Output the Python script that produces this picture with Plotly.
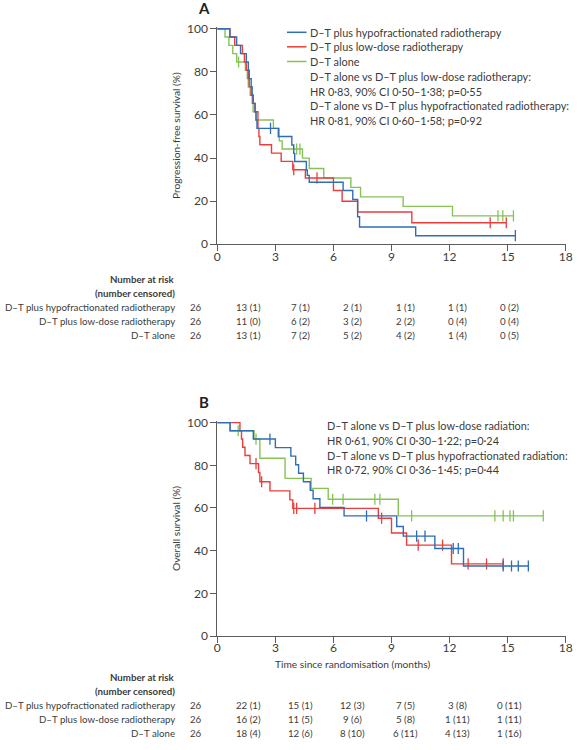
import numpy as np
import plotly.graph_objects as go

W, H = 579, 750

# ---------------- data ----------------
series_names = ["D–T plus hypofractionated radiotherapy",
                "D–T plus low-dose radiotherapy",
                "D–T alone"]
month_ticks = [0, 3, 6, 9, 12, 15, 18]
pct_ticks = [0, 20, 40, 60, 80, 100]

# Panel A: progression-free survival (%)
pfs_hypo_time = [0, 0.65, 1.0, 1.2, 1.5, 1.6, 1.65, 1.75, 1.8, 1.85, 1.95, 2.0, 2.05, 3.15,
                 3.85, 3.95, 4.0, 4.6, 4.65, 4.75, 6.5, 7.0, 7.25, 7.35, 10.25, 15.4]
pfs_hypo_surv = [100, 96.2, 92.3, 88.5, 84.6, 80.8, 76.9, 73.1, 69.2, 65.4, 61.5, 57.7, 53.8, 50.0,
                 46.1, 42.2, 38.4, 34.5, 32.0, 28.8, 25.0, 20.8, 12.8, 8.0, 4.0, 4.0]
pfs_hypo_cens = [2.75, 15.4]

pfs_low_time = [0, 0.65, 0.9, 1.3, 1.4, 1.5, 1.6, 1.65, 1.75, 1.85, 1.95, 2.1, 2.15, 2.2, 2.8,
                3.3, 3.9, 4.55, 6.0, 6.45, 7.25, 10.05, 14.93]
pfs_low_surv = [100, 96.2, 92.3, 88.5, 84.6, 80.8, 76.9, 73.1, 69.2, 65.4, 61.5, 53.8, 50.0, 46.2, 42.3,
                38.5, 34.6, 30.8, 25.0, 20.0, 15.0, 10.0, 10.0]
pfs_low_cens = [3.95, 5.15, 14.1, 14.93]

pfs_alone_time = [0, 0.4, 0.6, 0.8, 1.0, 1.45, 1.55, 1.6, 1.7, 1.8, 1.85, 2.0, 2.9, 3.2, 3.35,
                  4.4, 4.75, 5.5, 6.9, 7.4, 9.6, 12.15, 15.3]
pfs_alone_surv = [100, 96.2, 92.3, 88.5, 84.6, 80.8, 76.9, 73.1, 69.2, 65.4, 61.5, 57.7, 53.8, 48.0, 44.2,
                  40.0, 35.2, 30.8, 26.4, 22.0, 17.6, 13.2, 13.2]
pfs_alone_cens = [1.1, 4.1, 4.27, 14.5, 14.75, 15.3]

# Panel B: overall survival (%)
os_hypo_time = [0, 0.66, 1.86, 3.0, 3.8, 4.05, 4.2, 4.45, 4.8, 4.95, 5.3, 6.55, 9.27, 9.61,
                11.24, 12.72, 16.07]
os_hypo_surv = [100, 96.2, 92.3, 88.3, 84.3, 80.3, 76.3, 72.3, 68.3, 64.3, 60.3, 56.3, 51.3, 46.8,
                41.0, 32.8, 32.8]
os_hypo_cens = [2.72, 7.71, 10.3, 10.73, 12.19, 12.45, 14.77, 15.2, 15.55, 16.07]

os_low_time = [0, 1.17, 1.25, 1.31, 1.43, 1.69, 2.13, 2.2, 2.72, 3.75, 3.9, 8.32, 9.0, 9.78,
               12.1, 14.77]
os_low_surv = [100, 96.2, 92.3, 88.5, 84.6, 80.8, 76.6, 72.3, 68.0, 63.8, 59.8, 55.2, 48.3, 42.6,
               33.8, 33.8]
os_low_cens = [2.0, 2.29, 3.95, 4.1, 5.04, 8.49, 10.38, 11.64, 12.96, 13.91, 14.77]

os_alone_time = [0, 0.66, 1.9, 2.2, 3.5, 4.85, 5.73, 9.35, 16.84]
os_alone_surv = [100, 96.2, 92.3, 83.3, 73.9, 69.2, 64.1, 56.3, 56.3]
os_alone_cens = [1.08, 2.0, 5.96, 6.5, 8.14, 8.4, 10.04, 14.34, 14.77, 15.12, 15.3, 16.84]

# Numbers at risk (number censored)
pfs_risk_hypo = ["26", "13 (1)", "7 (1)", "2 (1)", "1 (1)", "1 (1)", "0 (2)"]
pfs_risk_low = ["26", "11 (0)", "6 (2)", "3 (2)", "2 (2)", "0 (4)", "0 (4)"]
pfs_risk_alone = ["26", "13 (1)", "7 (2)", "5 (2)", "4 (2)", "1 (4)", "0 (5)"]
os_risk_hypo = ["26", "22 (1)", "15 (1)", "12 (3)", "7 (5)", "3 (8)", "0 (11)"]
os_risk_low = ["26", "16 (2)", "11 (5)", "9 (6)", "5 (8)", "1 (11)", "1 (11)"]
os_risk_alone = ["26", "18 (4)", "12 (6)", "8 (10)", "6 (11)", "4 (13)", "1 (16)"]

pfs_stats = ["D–T alone vs D–T plus low-dose radiotherapy:",
             "HR 0·83, 90% CI 0·50–1·38; p=0·55",
             "D–T alone vs D–T plus hypofractionated radiotherapy:",
             "HR 0·81, 90% CI 0·60–1·58; p=0·92"]
os_stats = ["D–T alone vs D–T plus low-dose radiation:",
            "HR 0·61, 90% CI 0·30–1·22; p=0·24",
            "D–T alone vs D–T plus hypofractionated radiation:",
            "HR 0·72, 90% CI 0·36–1·45; p=0·44"]

# ---------------- style ----------------
COLORS = ["#2f6db5", "#ec3d3a", "#87c257"]
TXT = "#3c3c3c"
AX = "#5c5c5c"
FONT = "Lato"
FS_TXT = 10.9     # legend / statistics text
FS_TAB = 9.7      # risk table text


def px(x):
    return x / W


def py(y):
    return 1 - y / H


def step_at(times, surv, t):
    i = int(np.searchsorted(np.asarray(times), t, side="right")) - 1
    return surv[max(i, 0)]


fig = go.Figure()

panels = [
    ("x", "y", [(pfs_hypo_time, pfs_hypo_surv, pfs_hypo_cens),
                (pfs_low_time, pfs_low_surv, pfs_low_cens),
                (pfs_alone_time, pfs_alone_surv, pfs_alone_cens)]),
    ("x2", "y2", [(os_hypo_time, os_hypo_surv, os_hypo_cens),
                  (os_low_time, os_low_surv, os_low_cens),
                  (os_alone_time, os_alone_surv, os_alone_cens)]),
]

order = [2, 1, 0]  # draw green first, blue on top
for xa, ya, groups in panels:
    for k in order:
        t, s, c = groups[k]
        fig.add_trace(go.Scatter(x=t, y=s, mode="lines", line_shape="hv",
                                 line=dict(color=COLORS[k], width=1.4),
                                 xaxis=xa, yaxis=ya, showlegend=False,
                                 name=series_names[k], hoverinfo="skip"))
        cy = [step_at(t, s, v) for v in c]
        fig.add_trace(go.Scatter(x=c, y=cy, mode="markers",
                                 marker=dict(symbol="line-ns", size=8,
                                             line=dict(color=COLORS[k], width=1.3)),
                                 xaxis=xa, yaxis=ya, showlegend=False, hoverinfo="skip"))

# axes geometry (pixels)
X0, X1 = 217.3, 565.7
A_BOT, A_PER = 244.3, 2.155
B_BOT, B_PER = 636.0, 2.1335
YMAX = 100.8

axis_common = dict(showline=True, linecolor=AX, linewidth=1, ticks="outside",
                   ticklen=6, tickwidth=1, tickcolor=AX, showgrid=False, zeroline=False,
                   automargin=False,
                   tickfont=dict(family=FONT, size=12, color=TXT))

fig.update_layout(
    width=W, height=H, margin=dict(l=0, r=0, t=0, b=0),
    paper_bgcolor="white", plot_bgcolor="white", showlegend=False,
    font=dict(family=FONT, color=TXT),
    xaxis=dict(domain=[px(X0), px(X1)], range=[0, 18], tickvals=month_ticks,
               anchor="y", ticklabelstandoff=-5, **axis_common),
    yaxis=dict(domain=[py(A_BOT), py(A_BOT - YMAX * A_PER)], range=[0, YMAX],
               tickvals=pct_ticks, anchor="x",
               title=dict(text="Progression-free survival (%)", standoff=4,
                          font=dict(family=FONT, size=10.2, color=TXT)),
               **axis_common),
    xaxis2=dict(domain=[px(X0), px(X1)], range=[0, 18], tickvals=month_ticks,
                anchor="y2", ticklabelstandoff=-5, **axis_common),
    yaxis2=dict(domain=[py(B_BOT), py(B_BOT - YMAX * B_PER)], range=[0, YMAX],
                tickvals=pct_ticks, anchor="x2",
                title=dict(text="Overall survival (%)", standoff=4,
                           font=dict(family=FONT, size=10.2, color=TXT)),
                **axis_common),
)

ann = []
shapes = []

# panel letters
ann.append(dict(text="<b>A</b>", x=px(203.5), y=py(8.5), xref="paper", yref="paper",
                showarrow=False, font=dict(family=FONT, size=15, color="#222"),
                xanchor="center", yanchor="middle"))
ann.append(dict(text="<b>B</b>", x=px(203.5), y=py(402.5), xref="paper", yref="paper",
                showarrow=False, font=dict(family=FONT, size=15, color="#222"),
                xanchor="center", yanchor="middle"))

# manual legend in panel A
leg_rows = [32.3, 46.8, 61.5]
for k in range(3):
    shapes.append(dict(type="line", xref="paper", yref="paper",
                       x0=px(287), x1=px(306.5), y0=py(leg_rows[k]), y1=py(leg_rows[k]),
                       line=dict(color=COLORS[k], width=1.5)))
    ann.append(dict(text=series_names[k], x=px(307.5), y=py(leg_rows[k]), xref="paper",
                    yref="paper", showarrow=False, xanchor="left", yanchor="middle",
                    font=dict(family=FONT, size=FS_TXT, color=TXT)))

stat_rows_a = [76.8, 91.3, 105.9, 120.5]
for txt, yy in zip(pfs_stats, stat_rows_a):
    ann.append(dict(text=txt, x=px(307.5), y=py(yy), xref="paper", yref="paper",
                    showarrow=False, xanchor="left", yanchor="middle",
                    font=dict(family=FONT, size=FS_TXT, color=TXT)))

stat_rows_b = [426.0, 440.3, 455.0, 469.5]
for txt, yy in zip(os_stats, stat_rows_b):
    ann.append(dict(text=txt, x=px(324.7), y=py(yy), xref="paper", yref="paper",
                    showarrow=False, xanchor="left", yanchor="middle",
                    font=dict(family=FONT, size=FS_TXT, color=TXT)))

# x-axis title for panel B
ann.append(dict(text="Time since randomisation (months)", x=px(352), y=py(664),
                xref="paper", yref="paper", showarrow=False, xanchor="center",
                yanchor="middle", font=dict(family=FONT, size=10.2, color=TXT)))

# risk tables
col_x = [196, 248.3, 300.5, 352.8, 405, 457, 509.5]
LABEL_R = 176.5


def risk_table(top, rows):
    ann.append(dict(text="<b>Number at risk</b>", x=px(LABEL_R), y=py(top), xref="paper",
                    yref="paper", showarrow=False, xanchor="right", yanchor="middle",
                    font=dict(family=FONT, size=FS_TAB, color=TXT)))
    ann.append(dict(text="<b>(number censored)</b>", x=px(LABEL_R), y=py(top + 14),
                    xref="paper", yref="paper", showarrow=False, xanchor="right",
                    yanchor="middle", font=dict(family=FONT, size=FS_TAB, color=TXT)))
    for r, (name, vals) in enumerate(zip(series_names, rows)):
        yy = top + 27.5 + 14.1 * r
        ann.append(dict(text=name, x=px(LABEL_R), y=py(yy), xref="paper", yref="paper",
                        showarrow=False, xanchor="right", yanchor="middle",
                        font=dict(family=FONT, size=FS_TAB, color=TXT)))
        for cx, v in zip(col_x, vals):
            ann.append(dict(text=v, x=px(cx), y=py(yy), xref="paper", yref="paper",
                            showarrow=False, xanchor="center", yanchor="middle",
                            font=dict(family=FONT, size=FS_TAB, color=TXT)))


risk_table(279.3, [pfs_risk_hypo, pfs_risk_low, pfs_risk_alone])
risk_table(677.0, [os_risk_hypo, os_risk_low, os_risk_alone])

fig.update_layout(annotations=ann, shapes=shapes)
fig.write_html("out.html", config={"displayModeBar": False},
               post_script="document.body.style.margin='0';"
                           "document.body.style.overflow='hidden';")
